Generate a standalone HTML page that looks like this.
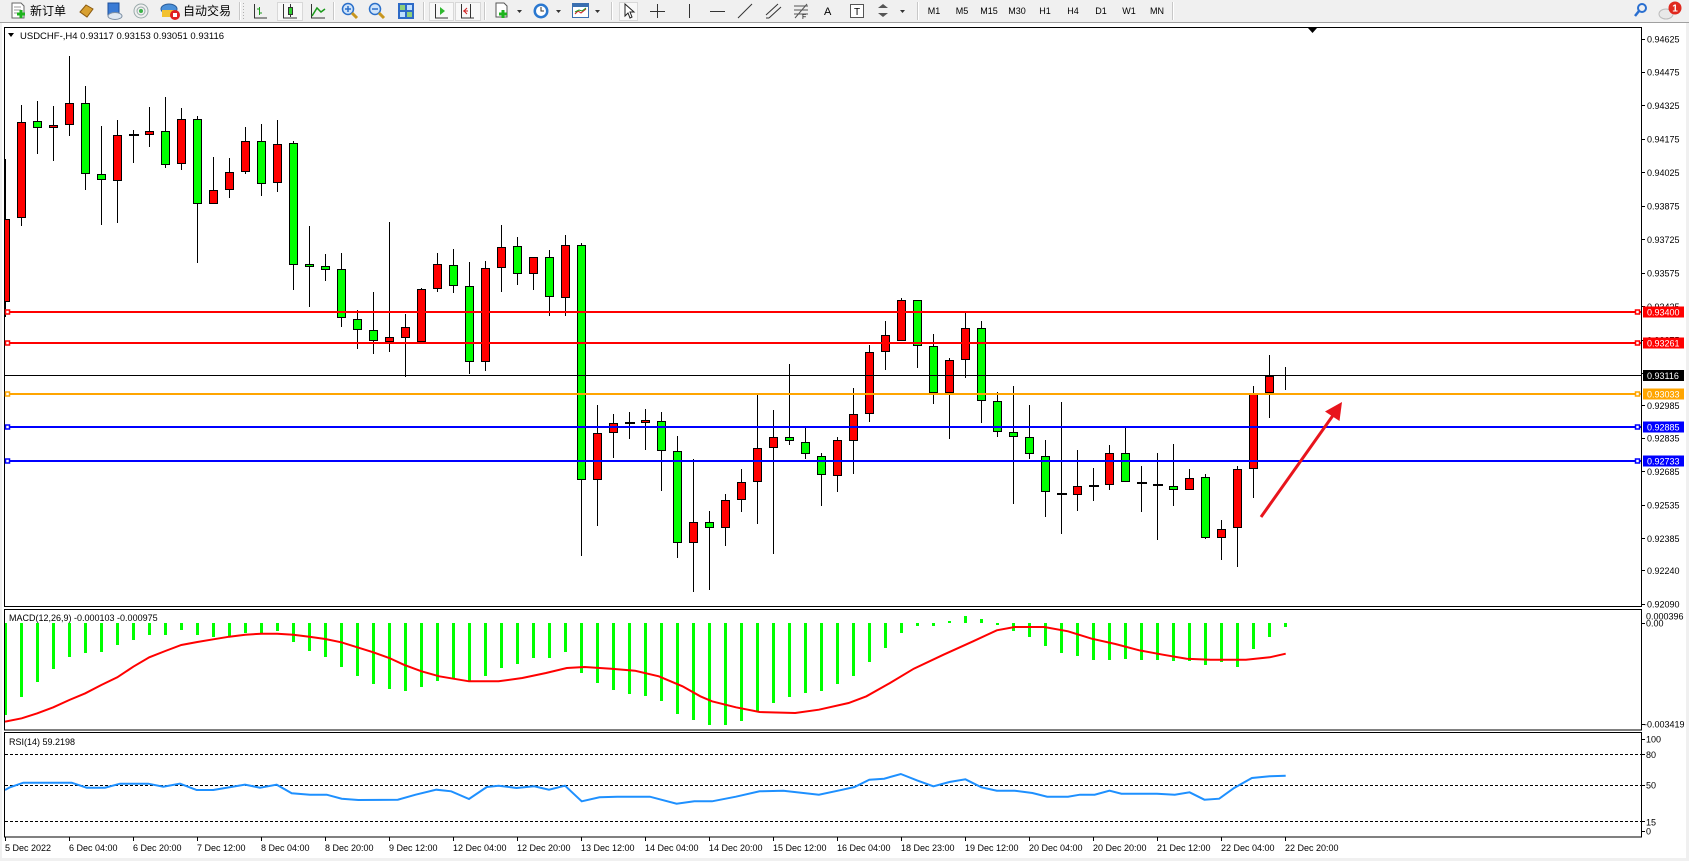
<!DOCTYPE html>
<html>
<head>
<meta charset="utf-8">
<style>
html,body{margin:0;padding:0;background:#f0f0f0;}
body{width:1689px;height:861px;overflow:hidden;}
svg{display:block;}
.t{font-family:"Liberation Sans",Arial,sans-serif;font-size:9px;fill:#000;}
.tw{font-family:"Liberation Sans",Arial,sans-serif;font-size:9px;fill:#fff;}
.cj{font-family:"Liberation Sans","Noto Sans CJK SC","WenQuanYi Zen Hei",sans-serif;font-size:12px;fill:#000;}
</style>
</head>
<body>
<svg width="1689" height="861" viewBox="0 0 1689 861" xmlns="http://www.w3.org/2000/svg">
<defs>
<clipPath id="cm"><rect x="5" y="28" width="1636" height="578"/></clipPath>
<clipPath id="cd"><rect x="5" y="610" width="1636" height="120"/></clipPath>
<clipPath id="cr"><rect x="5" y="733" width="1636" height="104"/></clipPath>
</defs>

<!-- toolbar -->
<rect x="0" y="0" width="1689" height="22" fill="#f0f0f0"/>
<rect x="0" y="22" width="1689" height="1" fill="#a0a0a0"/>
<!-- white chart window -->
<rect x="2" y="23" width="1684" height="835" fill="#ffffff"/>

<!-- toolbar icons -->
<g>
 <path d="M12 3h9l3 3v12h-12z" fill="#fff" stroke="#666"/>
 <path d="M14 7h7M14 10h7M14 13h5" stroke="#999"/>
 <path d="M17 14h8M21 10v8" stroke="#1db31d" stroke-width="3"/>
 <text class="cj" x="30" y="15">新订单</text>
 <path d="M80 12l6-7 7 4-6 8z" fill="#d8a030" stroke="#8a5a10"/>
 <rect x="108" y="3" width="11" height="12" fill="#3a7bd5" stroke="#1d4f9a"/>
 <ellipse cx="115" cy="16" rx="7" ry="3.5" fill="#dfe8f2" stroke="#7d8fa3"/>
 <circle cx="141" cy="11" r="7" fill="none" stroke="#9aa"/>
 <circle cx="141" cy="11" r="4" fill="none" stroke="#9aa"/>
 <circle cx="141" cy="11" r="2" fill="#3cb34a"/>
 <ellipse cx="169" cy="9" rx="8" ry="5" fill="#4a90d9" stroke="#2a5d9a"/>
 <rect x="162" y="10" width="12" height="7" fill="#f2c230"/>
 <circle cx="175" cy="15" r="5" fill="#e02020"/>
 <rect x="173" y="13" width="4" height="4" fill="#fff"/>
 <text class="cj" x="183" y="15">自动交易</text>
 <g stroke="#c8c8c8">
  <path d="M239.5 2V20M333.5 2V20M423.5 2V20M484.5 2V20M611.5 2V20M917.5 2V20M1172.5 2V20"/>
 </g>
 <g stroke="#ffffff">
  <path d="M240.5 2V20M334.5 2V20M424.5 2V20M485.5 2V20M612.5 2V20M918.5 2V20M1173.5 2V20"/>
 </g>
 <path d="M243.5 3V20" stroke="#b0b0b0" stroke-dasharray="1,2"/>
 <rect x="277.5" y="2.5" width="25" height="18" fill="#f8f8f8" stroke="#d8d8d8"/>
 <rect x="429.5" y="2.5" width="24" height="18" fill="#f8f8f8" stroke="#d8d8d8"/>
 <rect x="455.5" y="2.5" width="25" height="18" fill="#f8f8f8" stroke="#d8d8d8"/>
 <rect x="619.5" y="2.5" width="18" height="18" fill="#f8f8f8" stroke="#d8d8d8"/>
 <path d="M254.5 4V18H267" stroke="#333" fill="none"/>
 <path d="M259.5 7V15M257 9h2.5M259.5 13h2.5" stroke="#1a9a1a"/>
 <path d="M283.5 4V18H297" stroke="#333" fill="none"/>
 <path d="M290.5 4V17" stroke="#333"/><rect x="288.5" y="7.5" width="4" height="7" fill="#2fd02f" stroke="#333"/>
 <path d="M311.5 4V18H325" stroke="#333" fill="none"/>
 <path d="M312 16l5-8 4 4 4-3" stroke="#1a9a1a" fill="none" stroke-width="1.5"/>
 <circle cx="348" cy="9" r="5.5" fill="#cfe4fb" stroke="#2a6fc9" stroke-width="1.5"/>
 <path d="M345 9h6M348 6v6" stroke="#2a6fc9" stroke-width="1.5"/>
 <path d="M352 13l5 5" stroke="#c8961e" stroke-width="3"/>
 <circle cx="375" cy="9" r="5.5" fill="#cfe4fb" stroke="#2a6fc9" stroke-width="1.5"/>
 <path d="M372 9h6" stroke="#2a6fc9" stroke-width="1.5"/>
 <path d="M379 13l5 5" stroke="#c8961e" stroke-width="3"/>
 <rect x="398" y="3" width="16" height="16" fill="#2d6ac7"/>
 <rect x="400" y="5" width="5" height="5" fill="#8fd07a"/><rect x="407" y="5" width="5" height="5" fill="#bfe0ff"/>
 <rect x="400" y="12" width="5" height="5" fill="#bfe0ff"/><rect x="407" y="12" width="5" height="5" fill="#8fd07a"/>
 <path d="M435.5 4V18H448" stroke="#333" fill="none"/>
 <path d="M440 7l5 4-5 4z" fill="#2fb82f"/>
 <path d="M461.5 4V18H474" stroke="#333" fill="none"/>
 <path d="M470.5 4V18" stroke="#333"/>
 <path d="M468 11h-5M467 8l-3 3 3 3" stroke="#d02020" fill="none"/>
 <path d="M496 3h8l3 3v11h-11z" fill="#fff" stroke="#555"/>
 <path d="M499 14h8M503 10v8" stroke="#1db31d" stroke-width="3"/>
 <path d="M517 10h5l-2.5 3z" fill="#333"/>
 <circle cx="541" cy="11" r="7.5" fill="#2a78d0"/>
 <circle cx="541" cy="11" r="5" fill="#fff"/>
 <path d="M541 7v4h3" stroke="#333" fill="none"/>
 <path d="M556 10h5l-2.5 3z" fill="#333"/>
 <rect x="572.5" y="3.5" width="16" height="14" fill="#fff" stroke="#3a6fb0"/>
 <rect x="573" y="4" width="15" height="3" fill="#3a6fb0"/>
 <path d="M575 14l3-3 3 2 5-4" stroke="#d02020" fill="none"/>
 <path d="M575 12l4-2 3 1 4-3" stroke="#1a9a1a" fill="none"/>
 <path d="M595 10h5l-2.5 3z" fill="#333"/>
 <path d="M625 4v12l3-3 2 5 2-1-2-5h4z" fill="#fff" stroke="#222"/>
 <path d="M657.5 4V18M650 11.5H665" stroke="#333"/>
 <path d="M689.5 4V18" stroke="#333"/>
 <path d="M710 11.5H725" stroke="#333"/>
 <path d="M738 18L752 4" stroke="#333"/>
 <path d="M766 15L778 4M769 18L781 7M766 18h3" stroke="#333"/>
 <path d="M794 6h14M794 10h14M794 14h14M795 18L807 4" stroke="#555"/>
 <text class="t" x="802" y="19" style="font-size:7px">F</text>
 <text class="t" x="824" y="15" style="font-size:11px">A</text>
 <rect x="850.5" y="4.5" width="13" height="13" fill="#fff" stroke="#555"/>
 <text class="t" x="854" y="15" style="font-size:10px">T</text>
 <path d="M878 8l5-4 5 4zM878 13l5 4 5-4z" fill="#555"/>
 <path d="M900 10h5l-2.5 3z" fill="#333"/>
 <text class="t" x="934" y="14" text-anchor="middle">M1</text>
 <text class="t" x="962" y="14" text-anchor="middle">M5</text>
 <text class="t" x="989" y="14" text-anchor="middle">M15</text>
 <text class="t" x="1017" y="14" text-anchor="middle">M30</text>
 <text class="t" x="1045" y="14" text-anchor="middle">H1</text>
 <text class="t" x="1073" y="14" text-anchor="middle">H4</text>
 <text class="t" x="1101" y="14" text-anchor="middle">D1</text>
 <text class="t" x="1129" y="14" text-anchor="middle">W1</text>
 <text class="t" x="1157" y="14" text-anchor="middle">MN</text>
 <circle cx="1642" cy="8" r="4" fill="none" stroke="#2a6fd0" stroke-width="2"/>
 <path d="M1639 11l-4 5" stroke="#2a6fd0" stroke-width="2.5"/>
 <ellipse cx="1666" cy="14" rx="7" ry="5" fill="#e8e8e8" stroke="#bbb"/>
 <circle cx="1675" cy="8" r="6.5" fill="#e0281e"/>
 <text x="1675" y="11.5" text-anchor="middle" style="font-family:'Liberation Sans',sans-serif;font-size:10px;font-weight:bold;fill:#fff">1</text>
</g>

<!-- panels frames -->
<g fill="none" stroke="#000" shape-rendering="crispEdges">
 <rect x="4.5" y="27.5" width="1637" height="579"/>
 <rect x="4.5" y="609.5" width="1637" height="120.5"/>
 <rect x="4.5" y="732.5" width="1637" height="104.5"/>
</g>

<path d="M1308 28h9l-4.5 5z" fill="#000"/>

<!-- header -->
<path d="M8 33h6l-3 4z" fill="#000"/>
<text class="t" x="20" y="39" style="font-size:9.5px">USDCHF-,H4  0.93117 0.93153 0.93051 0.93116</text>

<!-- candles -->
<g clip-path="url(#cm)" shape-rendering="crispEdges">
<path stroke="#000" stroke-width="1" fill="none" d="M5.5 159V317M21.5 105V226M37.5 101V154M53.5 106V161M69.5 56V136M85.5 86V190M101.5 126V225M117.5 120V223M133.5 130V163M149.5 107V147M165.5 97V168M181.5 108V170M197.5 116V263M213.5 157V204M229.5 158V198M245.5 127V174M261.5 124V196M277.5 120V192M293.5 141V290M309.5 226V307M325.5 254V281M341.5 253V327M357.5 310V349M373.5 292V354M389.5 222V352M405.5 314V377M421.5 288V342M437.5 253V292M453.5 249V293M469.5 262V374M485.5 261V371M501.5 225V292M517.5 237V285M533.5 257V290M549.5 250V316M565.5 235V316M581.5 243V556M597.5 405V526M613.5 414V458M629.5 412V439M645.5 409V450M661.5 412V491M677.5 436V558M693.5 459V592M709.5 511V590M725.5 494V546M741.5 469V512M757.5 395V524M773.5 410V554M789.5 364V445M805.5 427V459M821.5 453V506M837.5 437V492M853.5 388V474M869.5 345V422M885.5 321V370M901.5 298V341M917.5 300V368M933.5 334V404M949.5 358V439M965.5 313V378M981.5 321V423M997.5 392V437M1013.5 386V504M1029.5 405V459M1045.5 440V517M1061.5 402V534M1077.5 450V511M1093.5 468V501M1109.5 445V490M1125.5 428V482M1141.5 466V512M1157.5 453V540M1173.5 444V506M1189.5 469V490M1205.5 474V539M1221.5 520V560M1237.5 466V567M1253.5 386V498M1269.5 355V418M1285.5 367V390"/>
<g fill="#ff0000" stroke="#000" stroke-width="1">
<rect x="1.5" y="219.5" width="8" height="82"/>
<rect x="17.5" y="122.5" width="8" height="95"/>
<rect x="49.5" y="125.5" width="8" height="2"/>
<rect x="65.5" y="103.5" width="8" height="21"/>
<rect x="113.5" y="135.5" width="8" height="45"/>
<rect x="145.5" y="131.5" width="8" height="3"/>
<rect x="177.5" y="119.5" width="8" height="44"/>
<rect x="209.5" y="190.5" width="8" height="13"/>
<rect x="225.5" y="172.5" width="8" height="17"/>
<rect x="241.5" y="141.5" width="8" height="30"/>
<rect x="273.5" y="144.5" width="8" height="38"/>
<rect x="385.5" y="337.5" width="8" height="4"/>
<rect x="401.5" y="327.5" width="8" height="10"/>
<rect x="417.5" y="289.5" width="8" height="52"/>
<rect x="433.5" y="264.5" width="8" height="24"/>
<rect x="481.5" y="268.5" width="8" height="93"/>
<rect x="497.5" y="247.5" width="8" height="20"/>
<rect x="529.5" y="257.5" width="8" height="16"/>
<rect x="561.5" y="245.5" width="8" height="52"/>
<rect x="593.5" y="433.5" width="8" height="46"/>
<rect x="609.5" y="423.5" width="8" height="9"/>
<rect x="641.5" y="420.5" width="8" height="2"/>
<rect x="689.5" y="522.5" width="8" height="20"/>
<rect x="721.5" y="500.5" width="8" height="27"/>
<rect x="737.5" y="482.5" width="8" height="17"/>
<rect x="753.5" y="448.5" width="8" height="33"/>
<rect x="769.5" y="437.5" width="8" height="10"/>
<rect x="833.5" y="440.5" width="8" height="35"/>
<rect x="849.5" y="414.5" width="8" height="26"/>
<rect x="865.5" y="352.5" width="8" height="61"/>
<rect x="881.5" y="335.5" width="8" height="16"/>
<rect x="897.5" y="300.5" width="8" height="40"/>
<rect x="945.5" y="360.5" width="8" height="32"/>
<rect x="961.5" y="328.5" width="8" height="31"/>
<rect x="1073.5" y="486.5" width="8" height="8"/>
<rect x="1105.5" y="453.5" width="8" height="31"/>
<rect x="1185.5" y="478.5" width="8" height="11"/>
<rect x="1217.5" y="529.5" width="8" height="8"/>
<rect x="1233.5" y="469.5" width="8" height="58"/>
<rect x="1249.5" y="394.5" width="8" height="74"/>
<rect x="1265.5" y="376.5" width="8" height="16"/>
</g>
<g fill="#00ff00" stroke="#000" stroke-width="1">
<rect x="33.5" y="121.5" width="8" height="6"/>
<rect x="81.5" y="103.5" width="8" height="70"/>
<rect x="97.5" y="174.5" width="8" height="5"/>
<rect x="161.5" y="131.5" width="8" height="33"/>
<rect x="193.5" y="119.5" width="8" height="84"/>
<rect x="257.5" y="141.5" width="8" height="42"/>
<rect x="289.5" y="143.5" width="8" height="121"/>
<rect x="305.5" y="264.5" width="8" height="2"/>
<rect x="321.5" y="266.5" width="8" height="3"/>
<rect x="337.5" y="269.5" width="8" height="48"/>
<rect x="353.5" y="319.5" width="8" height="10"/>
<rect x="369.5" y="330.5" width="8" height="10"/>
<rect x="449.5" y="265.5" width="8" height="20"/>
<rect x="465.5" y="286.5" width="8" height="75"/>
<rect x="513.5" y="246.5" width="8" height="27"/>
<rect x="545.5" y="257.5" width="8" height="39"/>
<rect x="577.5" y="245.5" width="8" height="234"/>
<rect x="657.5" y="421.5" width="8" height="29"/>
<rect x="673.5" y="451.5" width="8" height="91"/>
<rect x="705.5" y="522.5" width="8" height="5"/>
<rect x="785.5" y="437.5" width="8" height="3"/>
<rect x="801.5" y="442.5" width="8" height="11"/>
<rect x="817.5" y="456.5" width="8" height="18"/>
<rect x="913.5" y="300.5" width="8" height="45"/>
<rect x="929.5" y="346.5" width="8" height="46"/>
<rect x="977.5" y="328.5" width="8" height="72"/>
<rect x="993.5" y="401.5" width="8" height="30"/>
<rect x="1009.5" y="432.5" width="8" height="4"/>
<rect x="1025.5" y="437.5" width="8" height="16"/>
<rect x="1041.5" y="456.5" width="8" height="35"/>
<rect x="1121.5" y="453.5" width="8" height="28"/>
<rect x="1169.5" y="486.5" width="8" height="3"/>
<rect x="1201.5" y="477.5" width="8" height="60"/>
</g>
<path stroke="#000" stroke-width="2" d="M129 135H139M625 423H635M1057 494H1067M1089 486H1099M1137 483H1147M1153 485H1163"/>
<path stroke="#000" stroke-width="1" d="M1281 375.5H1291"/>
</g>

<!-- horizontal lines -->
<g shape-rendering="crispEdges">
<rect x="5" y="311" width="1636" height="2" fill="#ff0000"/>
<rect x="5" y="342" width="1636" height="2" fill="#ff0000"/>
<rect x="5" y="375" width="1636" height="1" fill="#000000"/>
<rect x="5" y="393" width="1636" height="2" fill="#ffa500"/>
<rect x="5" y="426" width="1636" height="2" fill="#0000ff"/>
<rect x="5" y="460" width="1636" height="2" fill="#0000ff"/>
</g>
<g fill="#fff" stroke-width="1.5">
<rect x="5.5" y="310" width="4" height="4" stroke="#ff0000"/>
<rect x="1635.5" y="310" width="4" height="4" stroke="#ff0000"/>
<rect x="5.5" y="341" width="4" height="4" stroke="#ff0000"/>
<rect x="1635.5" y="341" width="4" height="4" stroke="#ff0000"/>
<rect x="5.5" y="392" width="4" height="4" stroke="#ffa500"/>
<rect x="1635.5" y="392" width="4" height="4" stroke="#ffa500"/>
<rect x="5.5" y="425" width="4" height="4" stroke="#0000ff"/>
<rect x="1635.5" y="425" width="4" height="4" stroke="#0000ff"/>
<rect x="5.5" y="459" width="4" height="4" stroke="#0000ff"/>
<rect x="1635.5" y="459" width="4" height="4" stroke="#0000ff"/>
</g>

<!-- arrow -->
<path d="M1261 517L1334 414" stroke="#e8141c" stroke-width="3"/>
<path d="M1342 402L1325 411.5L1339.5 421z" fill="#e8141c"/>

<!-- price axis -->
<g stroke="#000" shape-rendering="crispEdges">
<path d="M1641 39.5h4M1641 72.5h4M1641 105.5h4M1641 139.5h4M1641 172.5h4M1641 206.5h4M1641 239.5h4M1641 273.5h4M1641 306.5h4M1641 340.5h4M1641 373.5h4M1641 405.5h4M1641 438.5h4M1641 471.5h4M1641 505.5h4M1641 538.5h4M1641 570.5h4M1641 604.5h4"/>
</g>
<text class="t" x="1647" y="42.5">0.94625</text>
<text class="t" x="1647" y="75.5">0.94475</text>
<text class="t" x="1647" y="108.8">0.94325</text>
<text class="t" x="1647" y="142.3">0.94175</text>
<text class="t" x="1647" y="176">0.94025</text>
<text class="t" x="1647" y="209.6">0.93875</text>
<text class="t" x="1647" y="243">0.93725</text>
<text class="t" x="1647" y="276.6">0.93575</text>
<text class="t" x="1647" y="309.8">0.93425</text>
<text class="t" x="1647" y="343.3">0.93275</text>
<text class="t" x="1647" y="376.5">0.93125</text>
<text class="t" x="1647" y="409">0.92985</text>
<text class="t" x="1647" y="441.6">0.92835</text>
<text class="t" x="1647" y="475">0.92685</text>
<text class="t" x="1647" y="508.3">0.92535</text>
<text class="t" x="1647" y="542">0.92385</text>
<text class="t" x="1647" y="574">0.92240</text>
<text class="t" x="1647" y="607.6">0.92090</text>
<!-- price boxes -->
<rect x="1643" y="306.5" width="41" height="11" fill="#ff0000"/>
<text class="tw" x="1647" y="315.5">0.93400</text>
<rect x="1643" y="337.5" width="41" height="11" fill="#ff0000"/>
<text class="tw" x="1647" y="346.5">0.93261</text>
<rect x="1643" y="370" width="41" height="11" fill="#000000"/>
<text class="tw" x="1647" y="379">0.93116</text>
<rect x="1643" y="388.5" width="41" height="11" fill="#ffa500"/>
<text class="tw" x="1647" y="397.5">0.93033</text>
<rect x="1643" y="421.5" width="41" height="11" fill="#0000ff"/>
<text class="tw" x="1647" y="430.5">0.92885</text>
<rect x="1643" y="455.5" width="41" height="11" fill="#0000ff"/>
<text class="tw" x="1647" y="464.5">0.92733</text>

<!-- MACD -->
<text class="t" x="9" y="621">MACD(12,26,9) -0.000103 -0.000975</text>
<g clip-path="url(#cd)">
<path stroke="#00ff00" stroke-width="3" fill="none" shape-rendering="crispEdges" d="M5.5 623V715M21.5 623V697M37.5 623V682M53.5 623V669M69.5 623V657M85.5 623V653M101.5 623V652M117.5 623V645M133.5 623V640M149.5 623V635M165.5 623V635M181.5 623V630M197.5 623V635M213.5 623V637M229.5 623V637M245.5 623V633M261.5 623V633M277.5 623V631M293.5 623V642M309.5 623V651M325.5 623V657M341.5 623V667M357.5 623V676M373.5 623V684M389.5 623V689M405.5 623V691M421.5 623V687M437.5 623V681M453.5 623V678M469.5 623V681M485.5 623V676M501.5 623V668M517.5 623V664M533.5 623V658M549.5 623V658M565.5 623V652M581.5 623V673M597.5 623V683M613.5 623V690M629.5 623V694M645.5 623V696M661.5 623V701M677.5 623V714M693.5 623V720M709.5 623V725M725.5 623V725M741.5 623V721M757.5 623V711M773.5 623V703M789.5 623V697M805.5 623V693M821.5 623V691M837.5 623V684M853.5 623V676M869.5 623V662M885.5 623V648M901.5 623V633M917.5 623V626M933.5 623V626M949.5 621V623M965.5 616V623M981.5 619V623M997.5 623V625M1013.5 623V631M1029.5 623V637M1045.5 623V646M1061.5 623V653M1077.5 623V656M1093.5 623V660M1109.5 623V660M1125.5 623V659M1141.5 623V660M1157.5 623V660M1173.5 623V661M1189.5 623V661M1205.5 623V665M1221.5 623V662M1237.5 623V667M1253.5 623V649M1269.5 623V637M1285.5 623V627"/>
<polyline fill="none" stroke="#ff0000" stroke-width="2" points="5,721.7 21.7,718.3 37.3,713.3 53.3,707.3 69.3,700 85.3,693.3 101.3,685 117.3,677.3 133.3,666.7 149.3,657.3 165.3,651 181.3,645 197.3,642 213.3,639.3 229.3,636.7 245.3,634.7 261.3,633.7 277.3,633.7 293.3,634.7 309.3,636.7 325.3,639 341.3,642.3 357.3,647.3 373.3,652.3 389.3,658 403.7,664.7 421.5,671.3 439.3,676.3 469,681.3 498.6,681.3 522.3,678 546,673 566.8,668 584.6,667 611.3,668.7 635,670.7 658.8,676.3 682.5,686.3 700.3,696.3 712,701.3 735.9,707.3 759.6,712 795.2,713 818.9,709.7 848.6,703 866.4,696.3 890,683 913.8,668.7 943.5,654.7 973.1,641.3 996.8,630.3 1014.6,627 1044.3,627 1068,631.3 1091.7,638.7 1115.4,644 1139.2,650.3 1162.9,654.7 1186.6,658.7 1210.3,659.7 1245.9,659.7 1269.7,657.3 1285.7,653.7"/>
</g>
<g stroke="#000" shape-rendering="crispEdges"><path d="M1641 623.5h4M1641 724.5h4"/></g>
<text class="t" x="1646" y="619.5">0.000396</text>
<text class="t" x="1646" y="626.5">0.00</text>
<text class="t" x="1644" y="727.5">-0.003419</text>

<!-- RSI -->
<text class="t" x="9" y="745">RSI(14) 59.2198</text>
<g stroke="#000" stroke-dasharray="3,2" shape-rendering="crispEdges">
<path d="M5 754.5H1641M5 785.5H1641M5 821.5H1641"/>
</g>
<g clip-path="url(#cr)">
<polyline fill="none" stroke="#1e90ff" stroke-width="2" points="5,790 10,787.3 23.3,782.7 71.7,782.7 86.7,787.7 105,787.7 120,783.7 148.3,783.7 163.3,786.7 180,783.7 196.7,790 213.3,790 245,784.7 260,787.7 276.7,784.7 291.7,793.3 310,794.7 326.7,794.7 341.7,798.7 358.3,800 397.8,799.7 415.6,794.7 436.3,789.7 451.2,791.3 469,799 486.8,787 498.6,785.7 516.4,788 534.2,786.3 549,789.7 565,785.7 581.7,801.3 599.5,797.3 617.2,796.7 649.9,796.7 676.6,803.7 694.3,801.3 712.1,801.3 735.9,796.7 759.6,791.3 783.3,790.7 818.9,794.7 842.6,789.7 854.5,787 869.3,779.7 884.2,778.7 900.8,774 916.8,780.3 933.4,786.3 949.4,782 965.4,779.3 981.4,787.3 996.8,790.7 1014.6,790.7 1032.4,793 1047.2,796.7 1068,796.7 1079.9,794.7 1094.7,794.7 1109.5,790.7 1121.4,793.7 1157,793.7 1174.8,794.7 1189.6,792.3 1204.4,799.7 1219.2,798.7 1234.1,788 1251.9,778 1269.7,776.3 1285.7,775.7"/>
</g>
<g stroke="#000" shape-rendering="crispEdges"><path d="M1641 739.5h4M1641 754.5h4M1641 785.5h4M1641 821.5h4M1641 831.5h4"/></g>
<text class="t" x="1646" y="742.5">100</text>
<text class="t" x="1646" y="758">80</text>
<text class="t" x="1646" y="788.5">50</text>
<text class="t" x="1646" y="825.5">15</text>
<text class="t" x="1646" y="834.5">0</text>

<!-- time axis -->
<g stroke="#000" shape-rendering="crispEdges">
<path d="M5.5 837V841M69.5 837V841M133.5 837V841M197.5 837V841M261.5 837V841M325.5 837V841M389.5 837V841M453.5 837V841M517.5 837V841M581.5 837V841M645.5 837V841M709.5 837V841M773.5 837V841M837.5 837V841M901.5 837V841M965.5 837V841M1029.5 837V841M1093.5 837V841M1157.5 837V841M1221.5 837V841M1285.5 837V841"/>
</g>
<text class="t" x="5" y="851">5 Dec 2022</text>
<text class="t" x="69" y="851">6 Dec 04:00</text>
<text class="t" x="133" y="851">6 Dec 20:00</text>
<text class="t" x="197" y="851">7 Dec 12:00</text>
<text class="t" x="261" y="851">8 Dec 04:00</text>
<text class="t" x="325" y="851">8 Dec 20:00</text>
<text class="t" x="389" y="851">9 Dec 12:00</text>
<text class="t" x="453" y="851">12 Dec 04:00</text>
<text class="t" x="517" y="851">12 Dec 20:00</text>
<text class="t" x="581" y="851">13 Dec 12:00</text>
<text class="t" x="645" y="851">14 Dec 04:00</text>
<text class="t" x="709" y="851">14 Dec 20:00</text>
<text class="t" x="773" y="851">15 Dec 12:00</text>
<text class="t" x="837" y="851">16 Dec 04:00</text>
<text class="t" x="901" y="851">18 Dec 23:00</text>
<text class="t" x="965" y="851">19 Dec 12:00</text>
<text class="t" x="1029" y="851">20 Dec 04:00</text>
<text class="t" x="1093" y="851">20 Dec 20:00</text>
<text class="t" x="1157" y="851">21 Dec 12:00</text>
<text class="t" x="1221" y="851">22 Dec 04:00</text>
<text class="t" x="1285" y="851">22 Dec 20:00</text>

<rect x="0" y="858" width="1689" height="3" fill="#f0f0f0"/>
</svg>
</body>
</html>
